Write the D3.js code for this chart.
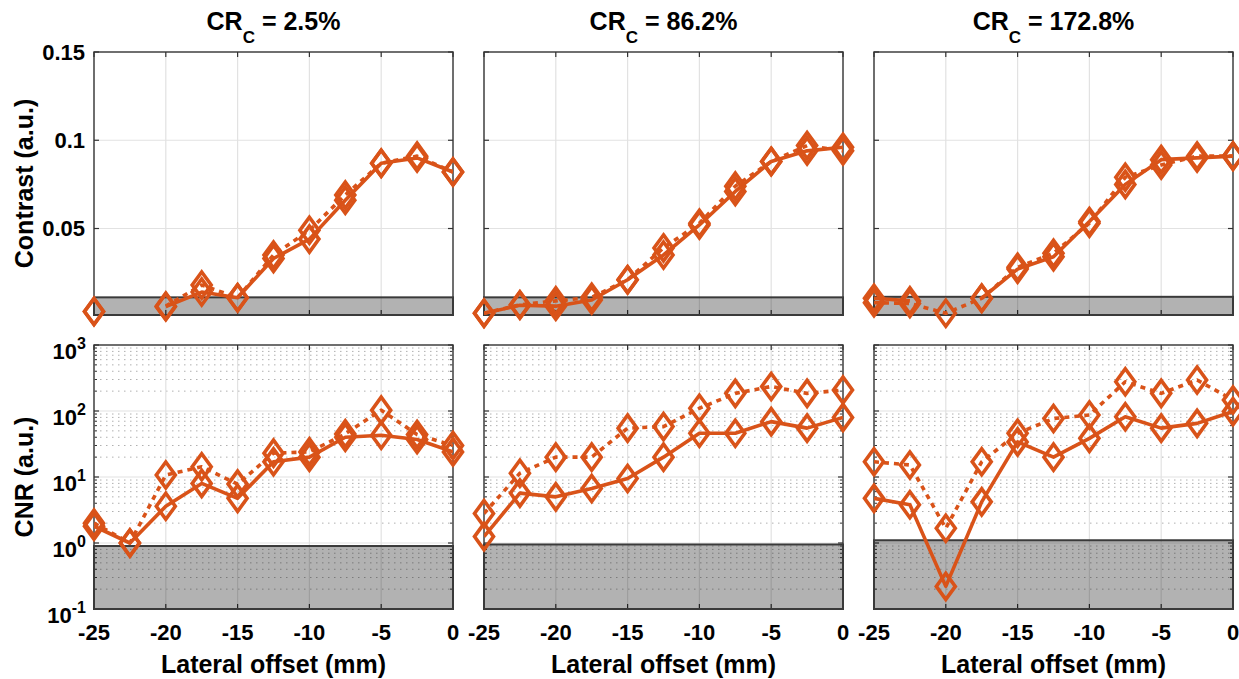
<!DOCTYPE html>
<html>
<head>
<meta charset="utf-8">
<script src="https://cdn.jsdelivr.net/npm/d3@7"></script>
<style>
  body { margin: 0; background: #fff; }
  svg { display: block; font-family: "Liberation Sans", Arial, Helvetica, sans-serif; font-weight: bold; }
</style>
</head>
<body>
<svg id="chart"></svg>
<script>
// Lateral offsets (mm), shared by every panel
const offsets = [-25, -22.5, -20, -17.5, -15, -12.5, -10, -7.5, -5, -2.5, 0];
const crValues = ["2.5%", "86.2%", "172.8%"];

// Contrast (a.u.) - solid and dotted series for each CR_C
const contrastSolid1 = [0.003, null, 0.0057, 0.014, 0.0108, 0.033, 0.044, 0.066, 0.087, 0.090, 0.082];
const contrastDotted1 = [0.003, null, 0.006, 0.018, 0.0108, 0.035, 0.049, 0.069, 0.087, 0.091, 0.082];
const contrastSolid2 = [0.002, 0.0065, 0.006, 0.0095, 0.021, 0.035, 0.052, 0.071, 0.088, 0.094, 0.096];
const contrastDotted2 = [0.002, 0.0068, 0.009, 0.011, 0.021, 0.039, 0.053, 0.074, 0.088, 0.097, 0.094];
const contrastSolid3 = [0.0105, 0.009, null, 0.0105, 0.027, 0.034, 0.054, 0.075, 0.089, 0.090, 0.091];
const contrastDotted3 = [0.008, 0.0075, 0.002, 0.0105, 0.028, 0.036, 0.053, 0.079, 0.086, 0.091, 0.091];

// CNR (a.u.) - solid and dotted series for each CR_C
const cnrSolid1 = [1.8, 1.0, 3.6, 8.0, 4.75, 17, 20, 40, 43, 37, 24];
const cnrDotted1 = [2.0, 1.0, 10.7, 14.3, 7.8, 23, 24, 45, 103, 44, 30];
const cnrSolid2 = [1.25, 5.7, 5.0, 6.7, 9.5, 20, 46, 46, 69, 55, 80];
const cnrDotted2 = [2.8, 11.4, 20, 20, 55, 58, 110, 185, 235, 185, 208];
const cnrSolid3 = [4.75, 3.8, 0.22, 4.2, 34, 20, 38.5, 82, 55, 65, 98];
const cnrDotted3 = [17, 15.2, 1.67, 17, 46, 77, 87, 277, 185, 295, 147];

// Gray "below threshold" bands
const contrastThreshold = [0.011, 0.011, 0.0113];
const cnrThreshold = [0.9, 0.95, 1.1];

// Tick values
const xTicks = [-25, -20, -15, -10, -5, 0];
const contrastTicks = [0.05, 0.1, 0.15];
const contrastTickLabels = ["0.05", "0.1", "0.15"];
const cnrTicks = [0.1, 1, 10, 100, 1000];
const cnrTickExp = ["-1", "0", "1", "2", "3"];

const width = 1239;
const height = 679;
const orange = "#D95319";

const svg = d3.select("#chart").attr("width", width).attr("height", height);

const colLeft = [94, 484, 874];
const panelW = 359;
const topRow = [52, 315];
const botRow = [345, 609];

const contrastData = [
  [contrastSolid1, contrastDotted1],
  [contrastSolid2, contrastDotted2],
  [contrastSolid3, contrastDotted3]
];
const cnrData = [
  [cnrSolid1, cnrDotted1],
  [cnrSolid2, cnrDotted2],
  [cnrSolid3, cnrDotted3]
];

function diamond(g, x, y) {
  g.append("path")
    .attr("d", `M${x},${y - 13}L${x + 9.5},${y}L${x},${y + 13}L${x - 9.5},${y}Z`)
    .attr("fill", "none")
    .attr("stroke", orange)
    .attr("stroke-width", 3.6)
    .attr("stroke-linejoin", "miter");
}

function drawPanel(col, row) {
  const isLog = row === 1;
  const x0 = colLeft[col];
  const x1 = x0 + panelW;
  const [yTop, yBot] = isLog ? botRow : topRow;

  const xScale = d3.scaleLinear().domain([-25, 0]).range([x0, x1]);
  const yScale = isLog
    ? d3.scaleLog().domain([0.1, 1000]).range([yBot, yTop])
    : d3.scaleLinear().domain([0.001, 0.15]).range([yBot, yTop]);

  const g = svg.append("g");

  // minor grid (log only)
  if (isLog) {
    const minors = [];
    for (let e = -1; e < 3; e++) {
      for (let m = 2; m <= 9; m++) minors.push(m * Math.pow(10, e));
    }
    g.selectAll(".minor")
      .data(minors)
      .enter()
      .append("line")
      .attr("x1", x0)
      .attr("x2", x1)
      .attr("y1", (d) => yScale(d))
      .attr("y2", (d) => yScale(d))
      .attr("stroke", "#b0b0b0")
      .attr("stroke-width", 1)
      .attr("stroke-dasharray", "1.5,4.5");
    // minor ticks
    minors.forEach((d) => {
      g.append("line").attr("x1", x0).attr("x2", x0 + 3).attr("y1", yScale(d)).attr("y2", yScale(d)).attr("stroke", "#333");
      g.append("line").attr("x1", x1).attr("x2", x1 - 3).attr("y1", yScale(d)).attr("y2", yScale(d)).attr("stroke", "#333");
    });
  }

  // major grid
  const yt = isLog ? cnrTicks : contrastTicks;
  g.selectAll(".gx")
    .data(xTicks)
    .enter()
    .append("line")
    .attr("x1", (d) => xScale(d))
    .attr("x2", (d) => xScale(d))
    .attr("y1", yTop)
    .attr("y2", yBot)
    .attr("stroke", "#e2e2e2")
    .attr("stroke-width", 1.2);
  g.selectAll(".gy")
    .data(yt)
    .enter()
    .append("line")
    .attr("x1", x0)
    .attr("x2", x1)
    .attr("y1", (d) => yScale(d))
    .attr("y2", (d) => yScale(d))
    .attr("stroke", "#e2e2e2")
    .attr("stroke-width", 1.2);

  // box
  g.append("rect")
    .attr("x", x0)
    .attr("y", yTop)
    .attr("width", panelW)
    .attr("height", yBot - yTop)
    .attr("fill", "none")
    .attr("stroke", "#444")
    .attr("stroke-width", 1.5);

  // major ticks (inward)
  xTicks.forEach((d) => {
    g.append("line").attr("x1", xScale(d)).attr("x2", xScale(d)).attr("y1", yBot).attr("y2", yBot - 5).attr("stroke", "#333").attr("stroke-width", 1.2);
    g.append("line").attr("x1", xScale(d)).attr("x2", xScale(d)).attr("y1", yTop).attr("y2", yTop + 5).attr("stroke", "#333").attr("stroke-width", 1.2);
  });
  yt.forEach((d) => {
    g.append("line").attr("x1", x0).attr("x2", x0 + 5).attr("y1", yScale(d)).attr("y2", yScale(d)).attr("stroke", "#333").attr("stroke-width", 1.2);
    g.append("line").attr("x1", x1).attr("x2", x1 - 5).attr("y1", yScale(d)).attr("y2", yScale(d)).attr("stroke", "#333").attr("stroke-width", 1.2);
  });

  // threshold band
  const thr = isLog ? cnrThreshold[col] : contrastThreshold[col];
  g.append("rect")
    .attr("x", x0)
    .attr("y", yScale(thr))
    .attr("width", panelW)
    .attr("height", yBot - yScale(thr))
    .attr("fill", "#000")
    .attr("fill-opacity", 0.3)
    .attr("stroke", "#3a3a3a")
    .attr("stroke-width", 2);

  // series
  const series = isLog ? cnrData[col] : contrastData[col];
  const clipId = `clip-${col}-${row}`;
  svg.append("clipPath").attr("id", clipId)
    .append("rect").attr("x", x0).attr("y", yTop).attr("width", panelW).attr("height", yBot - yTop);

  series.forEach((vals, si) => {
    const pts = offsets.map((o, i) => ({ x: o, y: vals[i] }));
    const line = d3.line()
      .defined((d) => d.y !== null)
      .x((d) => xScale(d.x))
      .y((d) => yScale(d.y));
    g.append("path")
      .datum(pts)
      .attr("d", line)
      .attr("clip-path", `url(#${clipId})`)
      .attr("fill", "none")
      .attr("stroke", orange)
      .attr("stroke-width", 3.6)
      .attr("stroke-linejoin", "round")
      .attr("stroke-dasharray", si === 1 ? "5,5" : null);
    pts.filter((d) => d.y !== null).forEach((d) => diamond(g, xScale(d.x), yScale(d.y)));
  });

  // tick labels
  if (isLog) {
    xTicks.forEach((d) => {
      g.append("text")
        .attr("x", xScale(d))
        .attr("y", yBot + 31)
        .attr("text-anchor", "middle")
        .attr("font-size", 22)
        .text(d);
    });
  }
  if (col === 0) {
    if (isLog) {
      cnrTicks.forEach((d, i) => {
        const t = g.append("text")
          .attr("x", x0 - 8)
          .attr("y", yScale(d) + 14)
          .attr("text-anchor", "end")
          .attr("font-size", 22);
        t.append("tspan").text("10");
        t.append("tspan").attr("dy", -10).attr("font-size", 16).text(cnrTickExp[i]);
      });
    } else {
      contrastTicks.forEach((d, i) => {
        g.append("text")
          .attr("x", x0 - 9)
          .attr("y", yScale(d))
          .attr("dy", "0.36em")
          .attr("text-anchor", "end")
          .attr("font-size", 22)
          .text(contrastTickLabels[i]);
      });
    }
    g.append("text")
      .attr("transform", `translate(33,${(yTop + yBot) / 2}) rotate(-90)`)
      .attr("text-anchor", "middle")
      .attr("font-size", 25)
      .text(isLog ? "CNR (a.u.)" : "Contrast (a.u.)");
  }

  // x label and title
  if (isLog) {
    g.append("text")
      .attr("x", (x0 + x1) / 2)
      .attr("y", 673)
      .attr("text-anchor", "middle")
      .attr("font-size", 25)
      .text("Lateral offset (mm)");
  } else {
    const t = g.append("text")
      .attr("x", (x0 + x1) / 2)
      .attr("y", 30)
      .attr("text-anchor", "middle")
      .attr("font-size", 25);
    t.append("tspan").text("CR");
    t.append("tspan").attr("dy", 13).attr("font-size", 17).text("C");
    t.append("tspan").attr("dy", -13).text(" = " + crValues[col]);
  }
}

for (let c = 0; c < 3; c++) {
  drawPanel(c, 0);
  drawPanel(c, 1);
}
</script>
</body>
</html>
